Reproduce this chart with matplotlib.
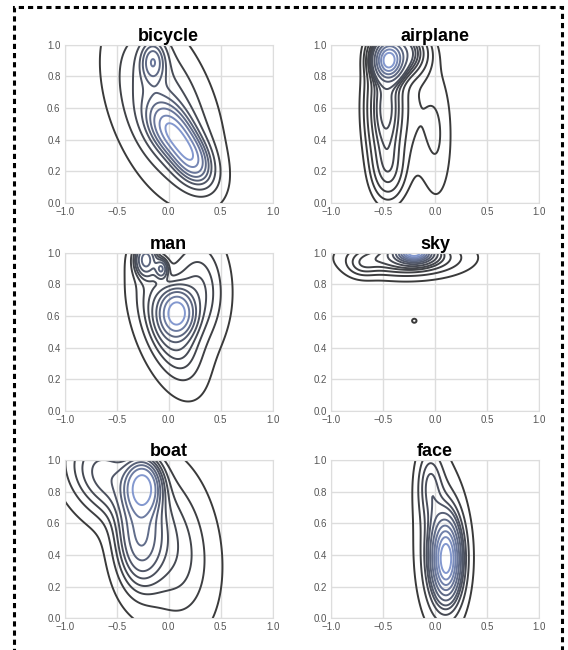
import numpy as np
import matplotlib
matplotlib.use("Agg")
import matplotlib.pyplot as plt
from matplotlib.colors import LinearSegmentedColormap
from matplotlib.patches import Rectangle

plt.rcParams["font.family"] = ["Liberation Sans", "DejaVu Sans"]

# categories, one panel each
labels = ["bicycle", "airplane", "man", "sky", "boat", "face"]

# gaussian blobs: (x, y, sx, sy, rho, weight)
bicycle = [(0.02, 0.46, 0.14, 0.11, -0.4, 0.20),
           (0.22, 0.28, 0.13, 0.11, -0.4, 0.20),
           (-0.15, 0.90, 0.08, 0.09, 0.0, 0.07),
           (-0.06, 0.60, 0.28, 0.30, -0.45, 0.53)]
airplane = [(-0.45, 0.90, 0.08, 0.07, 0.0, 0.28),
            (-0.33, 0.95, 0.14, 0.09, 0.0, 0.20),
            (-0.48, 0.60, 0.11, 0.24, 0.0, 0.28),
            (-0.45, 0.20, 0.10, 0.12, 0.0, 0.05),
            (0.02, 0.40, 0.11, 0.30, 0.0, 0.06),
            (-0.30, 0.60, 0.20, 0.30, 0.0, 0.13)]
man = [(0.08, 0.62, 0.09, 0.08, 0.0, 0.24),
       (-0.22, 0.96, 0.07, 0.07, 0.0, 0.08),
       (-0.07, 0.90, 0.04, 0.04, 0.0, 0.02),
       (-0.02, 0.55, 0.19, 0.23, -0.5, 0.38),
       (0.28, 0.75, 0.17, 0.22, 0.0, 0.28)]
sky = [(-0.20, 1.00, 0.10, 0.035, 0.0, 0.45),
       (-0.28, 0.97, 0.32, 0.07, 0.0, 0.50),
       (-0.70, 0.92, 0.10, 0.05, 0.0, 0.03),
       (-0.20, 0.57, 0.05, 0.03, 0.0, 0.0035)]
boat = [(-0.25, 0.83, 0.10, 0.10, 0.0, 0.20),
        (-0.28, 0.52, 0.14, 0.20, 0.0, 0.25),
        (-0.60, 0.90, 0.25, 0.18, -0.3, 0.25),
        (0.02, 0.45, 0.26, 0.32, -0.2, 0.30)]
face = [(0.11, 0.37, 0.10, 0.18, 0.0, 0.60),
        (0.05, 0.48, 0.14, 0.30, 0.0, 0.30),
        (-0.05, 0.85, 0.08, 0.15, 0.0, 0.10)]
blobs = [bicycle, airplane, man, sky, boat, face]
n_levels = [10, 14, 10, 14, 11, 12]

xticks = [-1.0, -0.5, 0.0, 0.5, 1.0]
yticks = [0.0, 0.2, 0.4, 0.6, 0.8, 1.0]

cmap = LinearSegmentedColormap.from_list("dk", ["#3a3a3a", "#8398cf"])

gx, gy = np.meshgrid(np.linspace(-1.6, 1.6, 400), np.linspace(-0.6, 1.6, 300))


def density(parts):
    z = np.zeros_like(gx)
    for x0, y0, sx, sy, r, w in parts:
        dx = (gx - x0) / sx
        dy = (gy - y0) / sy
        q = (dx ** 2 - 2 * r * dx * dy + dy ** 2) / (1 - r ** 2)
        z += w * np.exp(-0.5 * q) / (2 * np.pi * sx * sy * np.sqrt(1 - r ** 2))
    return z


def iso_levels(z, n):
    # same idea as seaborn: contours enclosing fixed mass proportions
    props = np.linspace(0.05, 1, n)[:-1]
    vals = np.sort(z.ravel())[::-1]
    cum = np.cumsum(vals) / vals.sum()
    idx = np.searchsorted(cum, 1 - props)
    return np.take(vals, idx, mode="clip")


fig = plt.figure(figsize=(5.68, 6.5), dpi=100)
lefts = [0.114, 0.583]
bottoms = [0.688, 0.368, 0.049]
for i, name in enumerate(labels):
    ax = fig.add_axes([lefts[i % 2], bottoms[i // 2], 0.366, 0.243])
    ax.set_axisbelow(True)
    z = density(blobs[i])
    lv = np.unique(iso_levels(z, n_levels[i]))
    ax.contour(gx, gy, z, levels=lv, cmap=cmap, linewidths=1.4)
    ax.set_xlim(-1, 1)
    ax.set_ylim(0, 1)
    ax.set_xticks(xticks)
    ax.set_yticks(yticks)
    ax.grid(color="#dddddd", lw=1)
    ax.tick_params(length=0, labelsize=7, labelcolor="#555555", pad=3)
    for s in ax.spines.values():
        s.set_color("#dddddd")
    ax.set_title(name, fontsize=13, fontweight="bold", pad=1)

border = Rectangle((0.024, -0.02), 0.965, 1.009, transform=fig.transFigure,
                   fill=False, ec="black", lw=2.2, ls=(0, (1.7, 1.3)))
fig.patches.append(border)

fig.savefig("out.png", dpi=100)
